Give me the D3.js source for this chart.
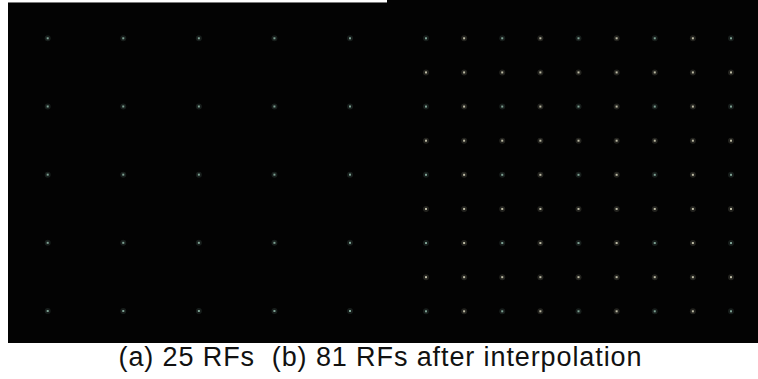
<!DOCTYPE html>
<html>
<head>
<meta charset="utf-8">
<script src="https://cdn.jsdelivr.net/npm/d3@7"></script>
<style>
  body { margin: 0; background: #fff; }
  svg { display: block; }
</style>
</head>
<body>
<svg id="svg" width="758" height="379"></svg>
<script>
const w = 758;
const h = 379;

// receptive field grid indices
const gridA = [0, 1, 2, 3, 4];                 // 5 x 5 = 25 RFs
const gridB = [0, 1, 2, 3, 4, 5, 6, 7, 8];     // 9 x 9 = 81 RFs
const captionText = "(a) 25 RFs  (b) 81 RFs after interpolation";

let svg = d3.select("#svg");

// panel (a)
let xA = d3.scaleLinear([0, 4], [47.7, 350]);
let yA = d3.scaleLinear([0, 4], [38.3, 311]);
// panel (b)
let xB = d3.scaleLinear([0, 8], [426, 731]);
let yB = d3.scaleLinear([0, 8], [38.3, 311.3]);

svg.append("rect")
  .attr("x", 8).attr("y", 2)
  .attr("width", 381).attr("height", 341)
  .attr("fill", "#030303");
svg.append("line")
  .attr("x1", 8).attr("x2", 387)
  .attr("y1", 2.5).attr("y2", 2.5)
  .attr("stroke", "#7a7a7a")
  .attr("stroke-width", 1);
svg.append("rect")
  .attr("x", 387).attr("y", 0)
  .attr("width", w - 387).attr("height", 343)
  .attr("fill", "#030303");

const pairs = (g) => g.flatMap((r) => g.map((c) => ({ r, c })));

const drawDots = (g, data, xs, ys, colorOf) => {
  g.selectAll("circle.glow")
    .data(data)
    .join("circle")
    .attr("class", "glow")
    .attr("cx", (d) => xs(d.c))
    .attr("cy", (d) => ys(d.r))
    .attr("r", 3)
    .attr("fill", (d) => colorOf(d))
    .attr("opacity", 0.15);
  g.selectAll("rect.dot")
    .data(data)
    .join("rect")
    .attr("class", "dot")
    .attr("x", (d) => xs(d.c) - 1)
    .attr("y", (d) => ys(d.r) - 1)
    .attr("width", 2)
    .attr("height", 2)
    .attr("fill", (d) => colorOf(d))
    .attr("opacity", 0.85);
};

drawDots(svg.append("g"), pairs(gridA), xA, yA, () => "#8fb8a8");
drawDots(svg.append("g"), pairs(gridB), xB, yB,
  (d) => (d.r % 2 === 0 && d.c % 2 === 0) ? "#8fb8a8" : "#d8d6bc");

svg.append("text")
  .attr("x", 380)
  .attr("y", 366)
  .attr("text-anchor", "middle")
  .attr("font-family", "Liberation Sans, Arial, sans-serif")
  .attr("font-size", 27)
  .attr("textLength", 523)
  .attr("lengthAdjust", "spacing")
  .attr("fill", "#111")
  .style("white-space", "pre")
  .text(captionText);
</script>
</body>
</html>
